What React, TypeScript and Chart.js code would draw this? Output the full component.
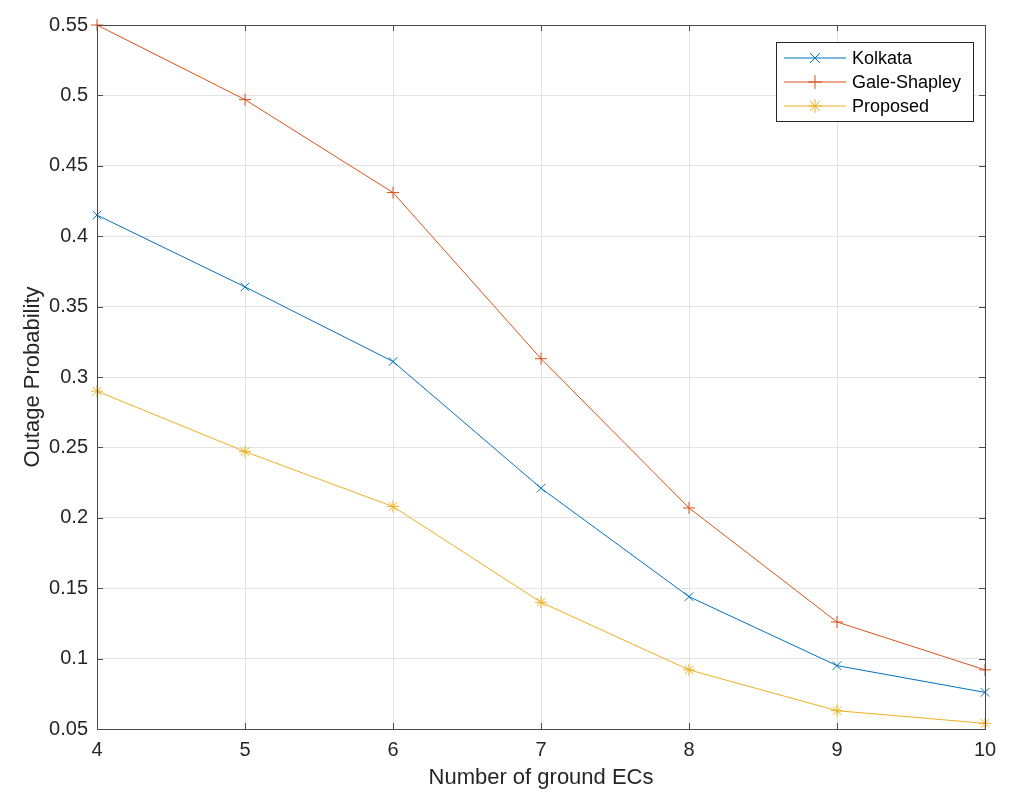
import React, { useEffect, useRef } from "react";
import { Chart, registerables } from "chart.js";

Chart.register(...registerables);

const categories = [4, 5, 6, 7, 8, 9, 10];
const kolkata = [0.415, 0.364, 0.311, 0.221, 0.144, 0.095, 0.076];
const galeShapley = [0.55, 0.497, 0.431, 0.313, 0.207, 0.126, 0.092];
const proposed = [0.29, 0.247, 0.208, 0.14, 0.092, 0.063, 0.054];
const xTicks = [4, 5, 6, 7, 8, 9, 10];
const yTicks = [0.05, 0.1, 0.15, 0.2, 0.25, 0.3, 0.35, 0.4, 0.45, 0.5, 0.55];
const seriesNames = ["Kolkata", "Gale-Shapley", "Proposed"];
const seriesColors = ["#0072BD", "#D95319", "#EDB120"];
const seriesMarkers = ["crossRot", "cross", "star"];

const FONT = "'Liberation Sans', Arial, Helvetica, sans-serif";
const TEXT = "#262626";

function drawMarker(ctx: CanvasRenderingContext2D, kind: string, x: number, y: number, r: number) {
  ctx.beginPath();
  if (kind === "cross" || kind === "star") {
    ctx.moveTo(x - r, y);
    ctx.lineTo(x + r, y);
    ctx.moveTo(x, y - r);
    ctx.lineTo(x, y + r);
  }
  if (kind === "crossRot" || kind === "star") {
    const d = r * Math.SQRT1_2;
    ctx.moveTo(x - d, y - d);
    ctx.lineTo(x + d, y + d);
    ctx.moveTo(x - d, y + d);
    ctx.lineTo(x + d, y - d);
  }
  ctx.stroke();
}

const boxPlugin = {
  id: "matlabBox",
  afterDraw(chart: any) {
    const { ctx, chartArea: a, scales } = chart;
    ctx.save();
    ctx.strokeStyle = "#4a4a4a";
    ctx.lineWidth = 1;
    ctx.strokeRect(Math.round(a.left) + 0.5, Math.round(a.top) + 0.5, Math.round(a.right - a.left), Math.round(a.bottom - a.top));
    const tl = 6;
    ctx.beginPath();
    xTicks.forEach((v) => {
      const px = Math.round(scales.x.getPixelForValue(v)) + 0.5;
      ctx.moveTo(px, a.bottom);
      ctx.lineTo(px, a.bottom - tl);
      ctx.moveTo(px, a.top);
      ctx.lineTo(px, a.top + tl);
    });
    yTicks.forEach((v) => {
      const py = Math.round(scales.y.getPixelForValue(v)) + 0.5;
      ctx.moveTo(a.left, py);
      ctx.lineTo(a.left + tl, py);
      ctx.moveTo(a.right, py);
      ctx.lineTo(a.right - tl, py);
    });
    ctx.stroke();

    // legend
    const lx = 776, ly = 42, lw = 197, lh = 79;
    ctx.fillStyle = "#ffffff";
    ctx.fillRect(lx, ly, lw, lh);
    ctx.strokeStyle = "#262626";
    ctx.strokeRect(lx + 0.5, ly + 0.5, lw, lh);
    ctx.font = `18px ${FONT}`;
    ctx.textBaseline = "middle";
    ctx.textAlign = "left";
    seriesNames.forEach((name, i) => {
      const y = ly + 16 + i * 24;
      ctx.strokeStyle = seriesColors[i];
      ctx.lineWidth = 1;
      ctx.beginPath();
      ctx.moveTo(lx + 8, y);
      ctx.lineTo(lx + 70, y);
      ctx.stroke();
      drawMarker(ctx, seriesMarkers[i], lx + 39, y, 7);
      ctx.fillStyle = "#000000";
      ctx.fillText(name, lx + 76, y + 1);
    });
    ctx.restore();
  },
};

export default function App() {
  const ref = useRef<HTMLCanvasElement>(null);
  useEffect(() => {
    if (!ref.current) return;
    const datasets = [kolkata, galeShapley, proposed].map((vals, i) => ({
      label: seriesNames[i],
      data: categories.map((c, j) => ({ x: c, y: vals[j] })),
      borderColor: seriesColors[i],
      backgroundColor: seriesColors[i],
      borderWidth: 1,
      pointStyle: seriesMarkers[i] as any,
      pointRadius: 6,
      pointBorderWidth: 1,
      pointBorderColor: seriesColors[i],
      tension: 0,
      fill: false,
      clip: false as any,
    }));
    const chart = new Chart(ref.current, {
      type: "line",
      data: { datasets },
      plugins: [boxPlugin],
      options: {
        animation: false,
        responsive: false,
        maintainAspectRatio: false,
        layout: { padding: { top: 25, right: 31, left: 0, bottom: 0 } },
        plugins: { legend: { display: false }, tooltip: { enabled: false } },
        scales: {
          x: {
            type: "linear",
            min: 4,
            max: 10,
            afterBuildTicks: (s: any) => {
              s.ticks = xTicks.map((v) => ({ value: v }));
            },
            afterFit: (s: any) => {
              s.height = 79;
            },
            grid: { color: "#e3e3e3", drawTicks: false, lineWidth: 1 },
            border: { display: false },
            ticks: {
              color: TEXT,
              font: { family: FONT, size: 20 },
              padding: 9,
              maxRotation: 0,
              callback: (v: any) => String(v),
            },
            title: {
              display: true,
              text: "Number of ground ECs",
              color: TEXT,
              font: { family: FONT, size: 22 },
              padding: { top: 0, bottom: 17 },
            },
          },
          y: {
            type: "linear",
            min: 0.05,
            max: 0.55,
            afterBuildTicks: (s: any) => {
              s.ticks = yTicks.map((v) => ({ value: v }));
            },
            afterFit: (s: any) => {
              s.width = 97;
            },
            grid: { color: "#e3e3e3", drawTicks: false, lineWidth: 1 },
            border: { display: false },
            ticks: {
              color: TEXT,
              font: { family: FONT, size: 20 },
              padding: 9,
              callback: (v: any) => String(parseFloat(Number(v).toFixed(2))),
            },
            title: {
              display: true,
              text: "Outage Probability",
              color: TEXT,
              font: { family: FONT, size: 22 },
              padding: { top: 20, bottom: 0 },
            },
          },
        },
      },
    });
    return () => chart.destroy();
  }, []);
  return (
    <div style={{ position: "fixed", left: 0, top: 0, width: 1016, height: 808, background: "#fff" }}>
      <canvas ref={ref} width={1016} height={808} style={{ display: "block" }} />
    </div>
  );
}
